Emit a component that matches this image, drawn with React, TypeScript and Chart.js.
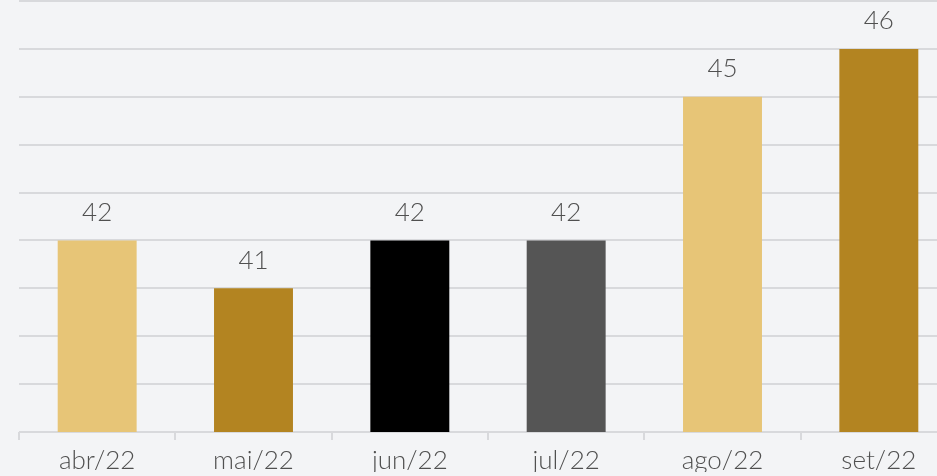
import React, { useEffect, useRef } from "react";
import { Chart, registerables } from "chart.js";

Chart.register(...registerables);

const categories = ["abr/22", "mai/22", "jun/22", "jul/22", "ago/22", "set/22"];
const values = [42, 41, 42, 42, 45, 46];
const barColors = ["#e7c577", "#b38421", "#000000", "#555555", "#e7c577", "#b38421"];
const yMin = 38;
const yMax = 47;

const FONT = "Lato";
const TEXT_COLOR = "#505050";
const GRID = "#d8d9dc";

const valueLabels = {
  id: "valueLabels",
  afterDatasetsDraw(chart: any) {
    const ctx = chart.ctx;
    const meta = chart.getDatasetMeta(0);
    ctx.save();
    ctx.font = `300 26px ${FONT}`;
    ctx.fillStyle = TEXT_COLOR;
    ctx.textAlign = "center";
    ctx.textBaseline = "middle";
    meta.data.forEach((el: any, i: number) => {
      ctx.fillText(String(values[i]), el.x, el.y - 28);
    });
    ctx.restore();
  },
};

export default function App() {
  const ref = useRef<HTMLCanvasElement>(null);
  useEffect(() => {
    document.body.style.margin = "0";
    const chart = new Chart(ref.current!, {
      type: "bar",
      data: {
        labels: categories,
        datasets: [
          {
            data: values,
            backgroundColor: barColors,
            barPercentage: 0.505,
            categoryPercentage: 1,
          },
        ],
      },
      options: {
        animation: false,
        responsive: false,
        maintainAspectRatio: false,
        layout: { padding: { left: 19, right: 3, top: 1, bottom: 4 } },
        plugins: { legend: { display: false }, tooltip: { enabled: false } },
        scales: {
          x: {
            border: { display: false },
            afterFit(scale: any) {
              scale.height = 40;
            },
            grid: {
              drawOnChartArea: false,
              drawTicks: true,
              tickLength: 8,
              color: GRID,
              lineWidth: 2,
            },
            ticks: {
              padding: 5,
              color: TEXT_COLOR,
              font: { family: FONT, size: 26, weight: "300" as any },
            },
          },
          y: {
            display: true,
            min: yMin,
            max: yMax,
            border: { display: false },
            grid: { color: GRID, lineWidth: 2, drawTicks: false },
            ticks: { display: false, stepSize: 1 },
          },
        },
      },
      plugins: [valueLabels],
    });
    return () => chart.destroy();
  }, []);
  return (
    <div
      style={{
        position: "fixed",
        left: 0,
        top: 0,
        width: 937,
        height: 476,
        overflow: "hidden",
        background: "#f3f4f6",
      }}
    >
      <canvas ref={ref} width={960} height={476} style={{ display: "block" }} />
    </div>
  );
}
